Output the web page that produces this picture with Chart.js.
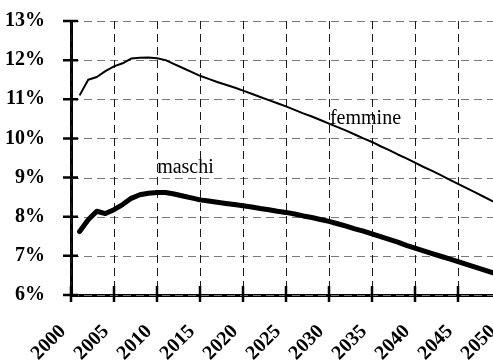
<!DOCTYPE html>
<html>
<head>
<meta charset="utf-8">
<script src="https://cdn.jsdelivr.net/npm/chart.js@4/dist/chart.umd.min.js"></script>
<style>
  html, body { margin: 0; padding: 0; background: #fff; overflow: hidden; }
  #wrap { width: 506px; height: 360px; }
</style>
</head>
<body>
<div id="wrap"><canvas id="c" width="506" height="360"></canvas></div>
<script>
// Anni di proiezione
const years = [2001,2002,2003,2004,2005,2006,2007,2008,2009,2010,
  2011,2012,2013,2014,2015,2016,2017,2018,2019,2020,
  2021,2022,2023,2024,2025,2026,2027,2028,2029,2030,
  2031,2032,2033,2034,2035,2036,2037,2038,2039,2040,
  2041,2042,2043,2044,2045,2046,2047,2048,2049,2050];

// Quota percentuale - femmine
const femmine = [11.10,11.50,11.57,11.72,11.84,11.92,12.04,12.06,12.07,12.05,
  12.00,11.90,11.80,11.70,11.60,11.52,11.44,11.37,11.30,11.22,
  11.14,11.06,10.98,10.90,10.82,10.73,10.64,10.56,10.47,10.38,
  10.29,10.20,10.10,10.00,9.91,9.80,9.70,9.59,9.49,9.38,
  9.27,9.17,9.06,8.95,8.84,8.73,8.62,8.51,8.40,8.29];

// Quota percentuale - maschi
const maschi = [7.62,7.92,8.14,8.08,8.18,8.31,8.47,8.56,8.60,8.62,
  8.62,8.58,8.53,8.48,8.43,8.40,8.37,8.34,8.31,8.28,
  8.25,8.21,8.18,8.14,8.11,8.07,8.02,7.98,7.93,7.88,
  7.82,7.76,7.69,7.63,7.56,7.49,7.42,7.35,7.27,7.20,
  7.13,7.06,6.99,6.92,6.85,6.78,6.71,6.64,6.57,6.50];

// Etichette delle serie, poste nel grafico
const seriesNames = ['femmine', 'maschi'];
const labelAnchors = [[2034.24, 10.38], [2013.31, 9.12]];

const yearTicks = [2000,2005,2010,2015,2020,2025,2030,2035,2040,2045,2050];

const SERIF = "'Liberation Serif', 'Times New Roman', serif";

// Griglia tratteggiata dietro le linee
const dashedGrid = {
  id: 'dashedGrid',
  beforeDatasetsDraw(chart) {
    const ctx = chart.ctx;
    const xs = chart.scales.x, ys = chart.scales.y;
    const area = chart.chartArea;
    ctx.save();
    ctx.lineWidth = 1;
    ctx.setLineDash([8, 5]);
    ctx.strokeStyle = '#7a7a7a';
    ctx.beginPath();
    ys.ticks.forEach(t => {
      const py = Math.round(ys.getPixelForValue(t.value)) + 0.5;
      ctx.moveTo(area.left, py);
      ctx.lineTo(area.right, py);
    });
    ctx.stroke();
    ctx.strokeStyle = '#1a1a1a';
    ctx.beginPath();
    xs.ticks.forEach(t => {
      const px = Math.round(xs.getPixelForValue(t.value)) + 0.5;
      ctx.moveTo(px, area.top);
      ctx.lineTo(px, area.bottom);
    });
    ctx.stroke();
    ctx.restore();
  }
};

// Tacche che attraversano gli assi e nomi delle serie
const decorations = {
  id: 'decorations',
  afterDraw(chart) {
    const ctx = chart.ctx;
    const xs = chart.scales.x, ys = chart.scales.y;
    const area = chart.chartArea;
    ctx.save();
    ctx.strokeStyle = '#000';
    ctx.lineWidth = 2.5;
    ctx.beginPath();
    ys.ticks.forEach(t => {
      const py = ys.getPixelForValue(t.value);
      ctx.moveTo(area.left - 8, py);
      ctx.lineTo(area.left + 7, py);
    });
    xs.ticks.forEach(t => {
      const px = xs.getPixelForValue(t.value);
      ctx.moveTo(px, area.bottom + 7);
      ctx.lineTo(px, area.bottom - 9);
    });
    ctx.stroke();

    ctx.fillStyle = '#000';
    ctx.font = '20px ' + SERIF;
    ctx.textAlign = 'center';
    ctx.textBaseline = 'alphabetic';
    seriesNames.forEach((name, i) => {
      const [ax, ay] = labelAnchors[i];
      ctx.fillText(name, xs.getPixelForValue(ax), ys.getPixelForValue(ay));
    });
    ctx.restore();
  }
};

new Chart(document.getElementById('c'), {
  type: 'line',
  data: {
    datasets: [
      {
        label: seriesNames[0],
        data: years.map((y, i) => ({ x: y, y: femmine[i] })),
        borderColor: '#000',
        borderWidth: 2,
        pointRadius: 0,
        tension: 0,
        borderJoinStyle: 'round'
      },
      {
        label: seriesNames[1],
        data: years.map((y, i) => ({ x: y, y: maschi[i] })),
        borderColor: '#000',
        borderWidth: 5,
        pointRadius: 0,
        tension: 0,
        borderJoinStyle: 'round',
        borderCapStyle: 'round'
      }
    ]
  },
  options: {
    responsive: false,
    animation: false,
    layout: { padding: { top: 21, right: 5, left: 0, bottom: 0 } },
    plugins: {
      legend: { display: false },
      tooltip: { enabled: false }
    },
    scales: {
      x: {
        type: 'linear',
        min: 2000,
        max: 2050,
        afterBuildTicks(scale) {
          scale.ticks = yearTicks.map(v => ({ value: v }));
        },
        afterFit(scale) {
          scale.height = 65;
          scale.paddingRight = 0;
          scale.paddingLeft = 0;
          scale.paddingTop = 0;
          scale.paddingBottom = 0;
        },
        grid: { display: false },
        border: { display: true, color: '#000', width: 3 },
        ticks: {
          autoSkip: false,
          maxRotation: 45,
          minRotation: 45,
          padding: 17,
          labelOffset: -8,
          color: '#000',
          font: { family: SERIF, size: 20, weight: 'bold' },
          callback: v => String(v)
        }
      },
      y: {
        min: 6,
        max: 13,
        afterFit(scale) {
          scale.width = 71;
          scale.paddingTop = 0;
          scale.paddingBottom = 0;
          scale.paddingLeft = 0;
          scale.paddingRight = 0;
        },
        grid: { display: false },
        border: { display: true, color: '#000', width: 3 },
        ticks: {
          stepSize: 1,
          padding: 18,
          color: '#000',
          font: { family: SERIF, size: 20, weight: 'bold' },
          callback: v => v + '%'
        }
      }
    }
  },
  plugins: [dashedGrid, decorations]
});
</script>
</body>
</html>
